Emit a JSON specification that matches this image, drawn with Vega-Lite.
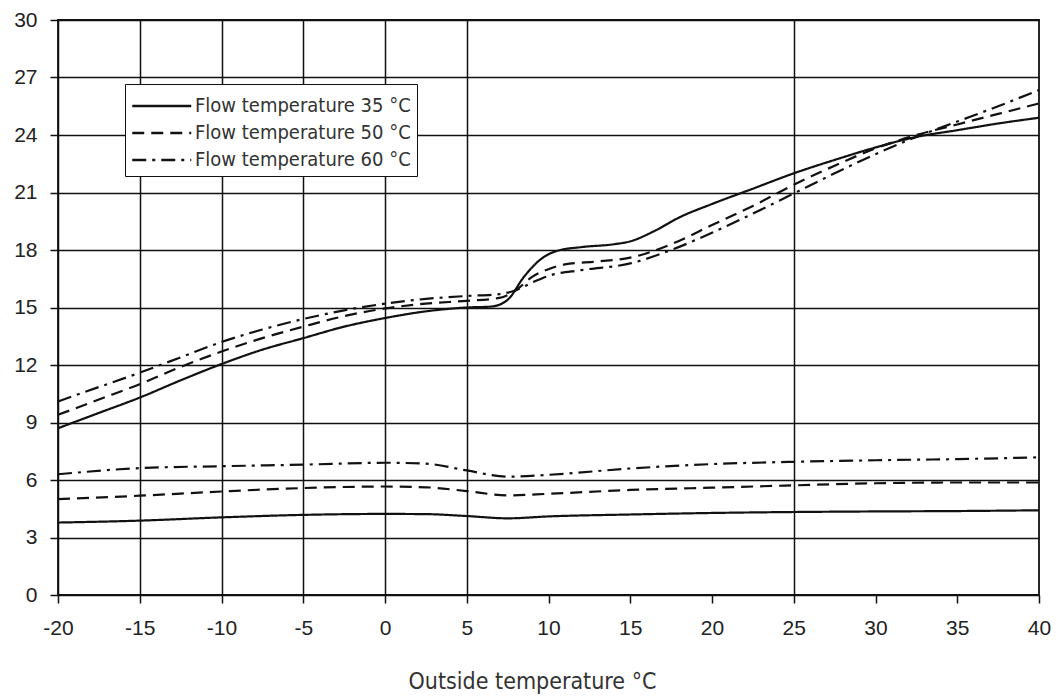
{
  "$schema": "https://vega.github.io/schema/vega-lite/v6.json",
  "width": 981,
  "height": 575,
  "autosize": {"type": "none"},
  "padding": {"left": 58, "top": 20, "right": 25, "bottom": 105},
  "background": "white",
  "config": {
    "view": {"stroke": "#111", "strokeWidth": 1.8},
    "font": "Liberation Sans"
  },
  "data": {
    "values": [
      {"t": -20, "v": 8.7, "series": "Flow temperature 35 °C", "part": "upper"},
      {"t": -17.5, "v": 9.5, "series": "Flow temperature 35 °C", "part": "upper"},
      {"t": -15, "v": 10.3, "series": "Flow temperature 35 °C", "part": "upper"},
      {"t": -12.5, "v": 11.2, "series": "Flow temperature 35 °C", "part": "upper"},
      {"t": -10, "v": 12.05, "series": "Flow temperature 35 °C", "part": "upper"},
      {"t": -7.5, "v": 12.8, "series": "Flow temperature 35 °C", "part": "upper"},
      {"t": -5, "v": 13.4, "series": "Flow temperature 35 °C", "part": "upper"},
      {"t": -2.5, "v": 14.0, "series": "Flow temperature 35 °C", "part": "upper"},
      {"t": 0, "v": 14.45, "series": "Flow temperature 35 °C", "part": "upper"},
      {"t": 2.5, "v": 14.8, "series": "Flow temperature 35 °C", "part": "upper"},
      {"t": 5, "v": 15.0, "series": "Flow temperature 35 °C", "part": "upper"},
      {"t": 6.5, "v": 15.05, "series": "Flow temperature 35 °C", "part": "upper"},
      {"t": 7.5, "v": 15.4, "series": "Flow temperature 35 °C", "part": "upper"},
      {"t": 8.5, "v": 16.6, "series": "Flow temperature 35 °C", "part": "upper"},
      {"t": 9.5, "v": 17.5, "series": "Flow temperature 35 °C", "part": "upper"},
      {"t": 10.5, "v": 17.95, "series": "Flow temperature 35 °C", "part": "upper"},
      {"t": 12, "v": 18.15, "series": "Flow temperature 35 °C", "part": "upper"},
      {"t": 14, "v": 18.3, "series": "Flow temperature 35 °C", "part": "upper"},
      {"t": 15, "v": 18.45, "series": "Flow temperature 35 °C", "part": "upper"},
      {"t": 16.5, "v": 19.0, "series": "Flow temperature 35 °C", "part": "upper"},
      {"t": 18, "v": 19.7, "series": "Flow temperature 35 °C", "part": "upper"},
      {"t": 20, "v": 20.4, "series": "Flow temperature 35 °C", "part": "upper"},
      {"t": 22.5, "v": 21.2, "series": "Flow temperature 35 °C", "part": "upper"},
      {"t": 25, "v": 22.0, "series": "Flow temperature 35 °C", "part": "upper"},
      {"t": 27.5, "v": 22.7, "series": "Flow temperature 35 °C", "part": "upper"},
      {"t": 30, "v": 23.35, "series": "Flow temperature 35 °C", "part": "upper"},
      {"t": 32.5, "v": 23.9, "series": "Flow temperature 35 °C", "part": "upper"},
      {"t": 35, "v": 24.25, "series": "Flow temperature 35 °C", "part": "upper"},
      {"t": 37.5, "v": 24.6, "series": "Flow temperature 35 °C", "part": "upper"},
      {"t": 40, "v": 24.9, "series": "Flow temperature 35 °C", "part": "upper"},

      {"t": -20, "v": 9.4, "series": "Flow temperature 50 °C", "part": "upper"},
      {"t": -17.5, "v": 10.2, "series": "Flow temperature 50 °C", "part": "upper"},
      {"t": -15, "v": 11.0, "series": "Flow temperature 50 °C", "part": "upper"},
      {"t": -12.5, "v": 11.9, "series": "Flow temperature 50 °C", "part": "upper"},
      {"t": -10, "v": 12.7, "series": "Flow temperature 50 °C", "part": "upper"},
      {"t": -7.5, "v": 13.4, "series": "Flow temperature 50 °C", "part": "upper"},
      {"t": -5, "v": 14.0, "series": "Flow temperature 50 °C", "part": "upper"},
      {"t": -2.5, "v": 14.55, "series": "Flow temperature 50 °C", "part": "upper"},
      {"t": 0, "v": 14.95, "series": "Flow temperature 50 °C", "part": "upper"},
      {"t": 2.5, "v": 15.2, "series": "Flow temperature 50 °C", "part": "upper"},
      {"t": 5, "v": 15.35, "series": "Flow temperature 50 °C", "part": "upper"},
      {"t": 7, "v": 15.5, "series": "Flow temperature 50 °C", "part": "upper"},
      {"t": 8, "v": 15.9, "series": "Flow temperature 50 °C", "part": "upper"},
      {"t": 9, "v": 16.6, "series": "Flow temperature 50 °C", "part": "upper"},
      {"t": 10, "v": 17.0, "series": "Flow temperature 50 °C", "part": "upper"},
      {"t": 11, "v": 17.25, "series": "Flow temperature 50 °C", "part": "upper"},
      {"t": 13, "v": 17.4, "series": "Flow temperature 50 °C", "part": "upper"},
      {"t": 15, "v": 17.6, "series": "Flow temperature 50 °C", "part": "upper"},
      {"t": 17.5, "v": 18.3, "series": "Flow temperature 50 °C", "part": "upper"},
      {"t": 20, "v": 19.3, "series": "Flow temperature 50 °C", "part": "upper"},
      {"t": 22.5, "v": 20.3, "series": "Flow temperature 50 °C", "part": "upper"},
      {"t": 25, "v": 21.4, "series": "Flow temperature 50 °C", "part": "upper"},
      {"t": 27.5, "v": 22.4, "series": "Flow temperature 50 °C", "part": "upper"},
      {"t": 30, "v": 23.3, "series": "Flow temperature 50 °C", "part": "upper"},
      {"t": 32.5, "v": 24.0, "series": "Flow temperature 50 °C", "part": "upper"},
      {"t": 35, "v": 24.55, "series": "Flow temperature 50 °C", "part": "upper"},
      {"t": 37.5, "v": 25.1, "series": "Flow temperature 50 °C", "part": "upper"},
      {"t": 40, "v": 25.65, "series": "Flow temperature 50 °C", "part": "upper"},

      {"t": -20, "v": 10.1, "series": "Flow temperature 60 °C", "part": "upper"},
      {"t": -17.5, "v": 10.85, "series": "Flow temperature 60 °C", "part": "upper"},
      {"t": -15, "v": 11.6, "series": "Flow temperature 60 °C", "part": "upper"},
      {"t": -12.5, "v": 12.4, "series": "Flow temperature 60 °C", "part": "upper"},
      {"t": -10, "v": 13.2, "series": "Flow temperature 60 °C", "part": "upper"},
      {"t": -7.5, "v": 13.85, "series": "Flow temperature 60 °C", "part": "upper"},
      {"t": -5, "v": 14.4, "series": "Flow temperature 60 °C", "part": "upper"},
      {"t": -2.5, "v": 14.85, "series": "Flow temperature 60 °C", "part": "upper"},
      {"t": 0, "v": 15.2, "series": "Flow temperature 60 °C", "part": "upper"},
      {"t": 2.5, "v": 15.45, "series": "Flow temperature 60 °C", "part": "upper"},
      {"t": 5, "v": 15.6, "series": "Flow temperature 60 °C", "part": "upper"},
      {"t": 7, "v": 15.7, "series": "Flow temperature 60 °C", "part": "upper"},
      {"t": 8, "v": 15.9, "series": "Flow temperature 60 °C", "part": "upper"},
      {"t": 9, "v": 16.3, "series": "Flow temperature 60 °C", "part": "upper"},
      {"t": 10, "v": 16.65, "series": "Flow temperature 60 °C", "part": "upper"},
      {"t": 12, "v": 16.95, "series": "Flow temperature 60 °C", "part": "upper"},
      {"t": 15, "v": 17.3, "series": "Flow temperature 60 °C", "part": "upper"},
      {"t": 17.5, "v": 18.0, "series": "Flow temperature 60 °C", "part": "upper"},
      {"t": 20, "v": 18.9, "series": "Flow temperature 60 °C", "part": "upper"},
      {"t": 22.5, "v": 19.9, "series": "Flow temperature 60 °C", "part": "upper"},
      {"t": 25, "v": 20.95, "series": "Flow temperature 60 °C", "part": "upper"},
      {"t": 27.5, "v": 22.0, "series": "Flow temperature 60 °C", "part": "upper"},
      {"t": 30, "v": 23.0, "series": "Flow temperature 60 °C", "part": "upper"},
      {"t": 32.5, "v": 23.9, "series": "Flow temperature 60 °C", "part": "upper"},
      {"t": 35, "v": 24.7, "series": "Flow temperature 60 °C", "part": "upper"},
      {"t": 37.5, "v": 25.5, "series": "Flow temperature 60 °C", "part": "upper"},
      {"t": 40, "v": 26.35, "series": "Flow temperature 60 °C", "part": "upper"},

      {"t": -20, "v": 3.78, "series": "Flow temperature 35 °C", "part": "lower"},
      {"t": -15, "v": 3.88, "series": "Flow temperature 35 °C", "part": "lower"},
      {"t": -10, "v": 4.05, "series": "Flow temperature 35 °C", "part": "lower"},
      {"t": -5, "v": 4.18, "series": "Flow temperature 35 °C", "part": "lower"},
      {"t": 0, "v": 4.23, "series": "Flow temperature 35 °C", "part": "lower"},
      {"t": 2.5, "v": 4.22, "series": "Flow temperature 35 °C", "part": "lower"},
      {"t": 5, "v": 4.12, "series": "Flow temperature 35 °C", "part": "lower"},
      {"t": 7.5, "v": 4.0, "series": "Flow temperature 35 °C", "part": "lower"},
      {"t": 10, "v": 4.1, "series": "Flow temperature 35 °C", "part": "lower"},
      {"t": 15, "v": 4.2, "series": "Flow temperature 35 °C", "part": "lower"},
      {"t": 20, "v": 4.28, "series": "Flow temperature 35 °C", "part": "lower"},
      {"t": 25, "v": 4.33, "series": "Flow temperature 35 °C", "part": "lower"},
      {"t": 30, "v": 4.36, "series": "Flow temperature 35 °C", "part": "lower"},
      {"t": 35, "v": 4.38, "series": "Flow temperature 35 °C", "part": "lower"},
      {"t": 40, "v": 4.42, "series": "Flow temperature 35 °C", "part": "lower"},

      {"t": -20, "v": 5.0, "series": "Flow temperature 50 °C", "part": "lower"},
      {"t": -15, "v": 5.18, "series": "Flow temperature 50 °C", "part": "lower"},
      {"t": -10, "v": 5.4, "series": "Flow temperature 50 °C", "part": "lower"},
      {"t": -5, "v": 5.58, "series": "Flow temperature 50 °C", "part": "lower"},
      {"t": 0, "v": 5.66, "series": "Flow temperature 50 °C", "part": "lower"},
      {"t": 2.5, "v": 5.62, "series": "Flow temperature 50 °C", "part": "lower"},
      {"t": 5, "v": 5.42, "series": "Flow temperature 50 °C", "part": "lower"},
      {"t": 7.5, "v": 5.2, "series": "Flow temperature 50 °C", "part": "lower"},
      {"t": 10, "v": 5.28, "series": "Flow temperature 50 °C", "part": "lower"},
      {"t": 15, "v": 5.48, "series": "Flow temperature 50 °C", "part": "lower"},
      {"t": 20, "v": 5.6, "series": "Flow temperature 50 °C", "part": "lower"},
      {"t": 25, "v": 5.72, "series": "Flow temperature 50 °C", "part": "lower"},
      {"t": 30, "v": 5.83, "series": "Flow temperature 50 °C", "part": "lower"},
      {"t": 35, "v": 5.87, "series": "Flow temperature 50 °C", "part": "lower"},
      {"t": 40, "v": 5.87, "series": "Flow temperature 50 °C", "part": "lower"},

      {"t": -20, "v": 6.3, "series": "Flow temperature 60 °C", "part": "lower"},
      {"t": -15, "v": 6.62, "series": "Flow temperature 60 °C", "part": "lower"},
      {"t": -10, "v": 6.72, "series": "Flow temperature 60 °C", "part": "lower"},
      {"t": -5, "v": 6.8, "series": "Flow temperature 60 °C", "part": "lower"},
      {"t": 0, "v": 6.9, "series": "Flow temperature 60 °C", "part": "lower"},
      {"t": 2.5, "v": 6.85, "series": "Flow temperature 60 °C", "part": "lower"},
      {"t": 5, "v": 6.5, "series": "Flow temperature 60 °C", "part": "lower"},
      {"t": 7.5, "v": 6.17, "series": "Flow temperature 60 °C", "part": "lower"},
      {"t": 10, "v": 6.27, "series": "Flow temperature 60 °C", "part": "lower"},
      {"t": 15, "v": 6.6, "series": "Flow temperature 60 °C", "part": "lower"},
      {"t": 20, "v": 6.83, "series": "Flow temperature 60 °C", "part": "lower"},
      {"t": 25, "v": 6.95, "series": "Flow temperature 60 °C", "part": "lower"},
      {"t": 30, "v": 7.03, "series": "Flow temperature 60 °C", "part": "lower"},
      {"t": 35, "v": 7.09, "series": "Flow temperature 60 °C", "part": "lower"},
      {"t": 40, "v": 7.18, "series": "Flow temperature 60 °C", "part": "lower"}
    ]
  },
  "mark": {"type": "line", "interpolate": "monotone", "color": "#111", "strokeWidth": 2.2},
  "encoding": {
    "x": {
      "field": "t",
      "type": "quantitative",
      "scale": {"domain": [-20, 40], "nice": false, "zero": false},
      "axis": {
        "values": [-20, -15, -10, -5, 0, 5, 10, 15, 20, 25, 30, 35, 40],
        "labelExpr": "'' + datum.value",
        "title": "Outside temperature °C",
        "titleFont": "DejaVu Sans Condensed",
        "titleFontSize": 23,
        "titleFontWeight": "normal",
        "titleColor": "#333",
        "titleX": 474,
        "titleY": 93,
        "titleBaseline": "alphabetic",
        "labelFont": "Liberation Sans",
        "labelFontSize": 21,
        "labelColor": "#222",
        "labelPadding": 14,
        "labelFlush": false,
        "tickSize": 8,
        "tickColor": "#111",
        "tickWidth": 1.5,
        "domain": false,
        "grid": true,
        "gridColor": "#111",
        "gridWidth": 1.5,
        "gridOpacity": {"condition": {"test": "datum.value <= 5 || datum.value == 25", "value": 1}, "value": 0}
      }
    },
    "y": {
      "field": "v",
      "type": "quantitative",
      "scale": {"domain": [0, 30], "nice": false},
      "axis": {
        "values": [0, 3, 6, 9, 12, 15, 18, 21, 24, 27, 30],
        "title": null,
        "labelFont": "Liberation Sans",
        "labelFontSize": 21,
        "labelColor": "#222",
        "labelPadding": 13,
        "labelFlush": false,
        "tickSize": 8,
        "tickColor": "#111",
        "tickWidth": 1.5,
        "domain": false,
        "grid": true,
        "gridColor": "#111",
        "gridWidth": 1.5
      }
    },
    "detail": {"field": "part"},
    "strokeDash": {
      "field": "series",
      "type": "nominal",
      "scale": {
        "domain": ["Flow temperature 35 °C", "Flow temperature 50 °C", "Flow temperature 60 °C"],
        "range": [[1, 0], [12, 7], [14, 6, 3, 6]]
      },
      "legend": {
        "title": null,
        "orient": "none",
        "legendX": 67,
        "legendY": 64,
        "fillColor": "white",
        "strokeColor": "#111",
        "padding": 6,
        "symbolType": "M-1,0H3",
        "symbolSize": 870,
        "symbolStrokeWidth": 2.5,
        "symbolStrokeColor": "#111",
        "labelFont": "DejaVu Sans Condensed",
        "labelFontSize": 20,
        "labelColor": "#333",
        "labelOffset": 32,
        "labelLimit": 400,
        "rowPadding": 1
      }
    }
  }
}
